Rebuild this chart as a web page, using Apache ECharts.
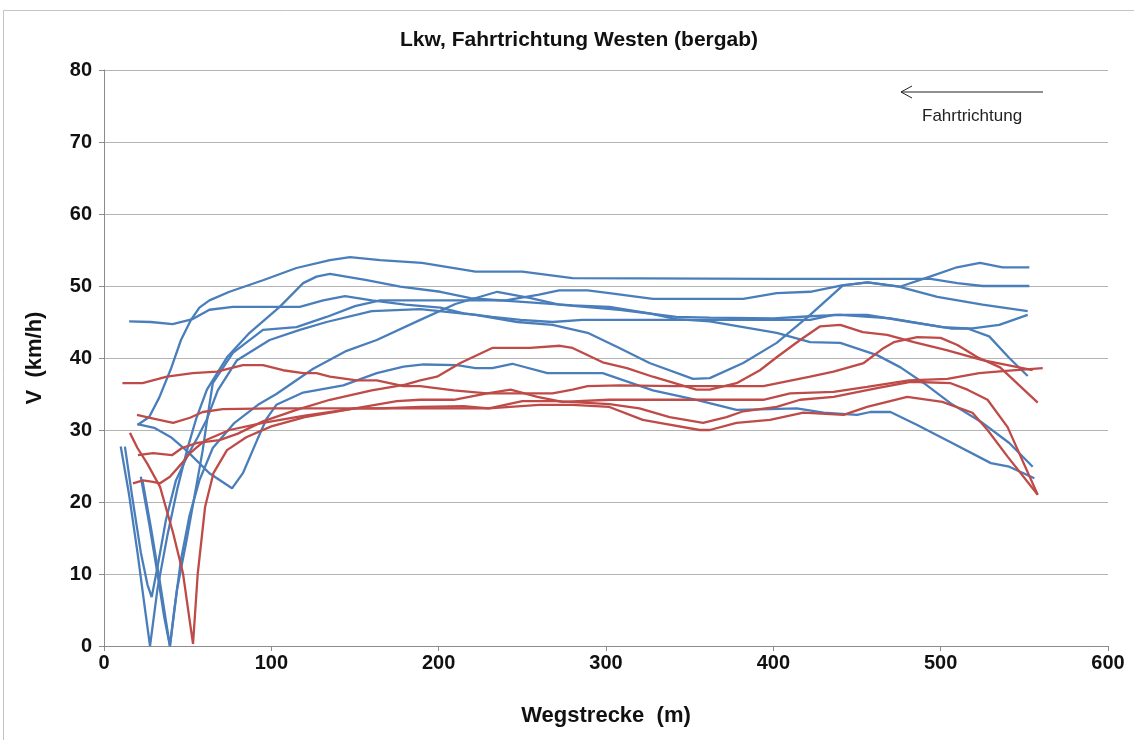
<!DOCTYPE html>
<html>
<head>
<meta charset="utf-8">
<script src="https://cdn.jsdelivr.net/npm/echarts@6/dist/echarts.min.js"></script>
<style>
html,body{margin:0;padding:0;background:#fff;}
#chart{width:1134px;height:740px;}
</style>
</head>
<body>
<div id="chart"></div>
<script>
// ---- data: [Wegstrecke (m), V (km/h)] ----
const xTicks = [0, 100, 200, 300, 400, 500, 600];
const yTicks = [0, 10, 20, 30, 40, 50, 60, 70, 80];

const blue1 = [[20,30.7],[27,31.8],[33,34.5],[40,38.5],[46,42.5],[52,45.3],[57,47],[63,48],[75,49.2],[95,50.8],[115,52.5],[135,53.6],[147,54],[165,53.6],[190,53.2],[222,52],[250,52],[280,51.1],[400,51],[494,51],[510,50.4],[525,50],[553,50]];
const blue2 = [[20,30.8],[30,30.3],[40,29],[50,27],[63,24],[76.5,21.9],[83,24],[91.5,28.6],[97,31.5],[103,33.5],[119,35.2],[143,36.2],[163,37.9],[179,38.8],[191,39.1],[211,39],[222,38.6],[232,38.6],[244,39.2],[265,37.9],[298,37.9],[328,35.5],[354,34.2],[378,32.8],[398,32.9],[414,33],[430,32.4],[450,32.1],[458,32.5],[470,32.5],[486,30.7],[506,28.3],[530,25.4],[541,24.9],[556,23.3]];
const blue3 = [[15,45.1],[28,45],[41,44.7],[53,45.4],[63,46.7],[77,47.1],[117,47.1],[131,48],[144,48.6],[160,48],[180,47.4],[201,47],[215,46.2],[232,45.7],[249,45.3],[268,45],[286,45.3],[308,45.3],[362,45.3],[422,45.3],[436,46],[456,46],[482,45],[506,44.1],[519,44.1],[535,44.6],[552,46]];
const blue4 = [[10,27.7],[15,21],[20,13],[24,6],[27.5,0],[32,8],[38,15.5],[44,22],[49.6,27.2],[55,31.5],[61.5,35.6],[73.5,40.1],[87,43.5],[105,47.1],[119,50.4],[127,51.3],[135,51.7],[157,50.8],[177,49.9],[201,49.2],[219,48.3],[250,47.8],[280,47.3],[302,47.1],[326,46.2],[342,45.4],[362,45.1],[382,44.3],[402,43.5],[422,42.2],[440,42.1],[462,40.4],[476,38.7],[490,36.5],[506,33.7],[525,31],[541,28.2],[555,24.9]];
const blue5 = [[12.5,27.7],[17,20.5],[22,13],[26,8.5],[28.5,6.8],[32,11],[37,17.5],[43,23],[50,26.5],[56,29],[61.5,31.5],[68,35.5],[79.5,39.7],[99,42.5],[117,43.9],[133,45],[160,46.5],[189,46.8],[222,46],[247,45],[268,44.6],[289,43.5],[308,41.4],[326,39.3],[352,37.1],[362,37.2],[382,39.3],[402,42.1],[422,46],[441.6,50.1],[456.7,50.5],[475.6,49.9],[493.6,51.3],[509.7,52.6],[523.5,53.2],[537,52.6],[553,52.6]];
const blue6 = [[22,23.5],[27,17],[32,10],[36,4],[39.4,0],[43.6,7.8],[49.6,15],[55,22],[59,27.2],[62,32],[65,36.5],[77,40.7],[95,43.9],[115,44.3],[133,45.7],[150,47.2],[165,48],[189,48],[240,48],[260,48.8],[272,49.4],[289,49.4],[302,49],[328,48.2],[382,48.2],[402,49],[422,49.2],[441,50.1],[456,50.5],[475,49.9],[498,48.5],[525,47.4],[552,46.5]];
const blue7 = [[23,23],[28,16.5],[33,9.5],[37,3.5],[39.4,0],[42,5],[46,12],[51,18],[57,23],[65,27.5],[78,31],[92,33.5],[103,35],[125,38.5],[145,41],[163,42.5],[189,45.3],[210,47.5],[235,49.2],[255,48.3],[272,47.4],[308,46.7],[342,45.7],[362,45.6],[400,45.5],[422,45.8],[440,46],[470,45.5],[501,44.3],[516,44.1],[529,43],[541,40],[552,37.5]];

const red1 = [[11,36.5],[23,36.5],[37.6,37.4],[53,37.9],[67.5,38.1],[83,39],[95,39],[107,38.3],[119,37.9],[127,37.9],[135,37.4],[151,36.9],[163,36.9],[179,36.1],[189,36.1],[209,35.5],[229,35.1],[268,35.1],[280,35.6],[289,36.1],[308,36.2],[342,36.1],[394,36.1],[422,37.4],[436,38.1],[454,39.3],[466,41.4],[472,42.2],[486,42.9],[500,42.8],[510,41.8],[522,40.1],[535.5,38.7],[558,33.8]];
const red2 = [[19.7,32.1],[27.5,31.7],[41.3,31],[51.4,31.7],[59,32.5],[71,32.9],[100,33],[135,33],[165,33],[189,33.2],[215,33.3],[230,33],[250,34],[270,34],[302,33.6],[320,33],[338,31.8],[358,31],[372,31.8],[382,32.6],[402,33.2],[416,34.2],[436,34.6],[462,35.8],[482,36.7],[506,36.5],[516,35.6],[528,34.2],[540,30.4],[558,21]];
const red3 = [[15.5,29.6],[20,27.5],[25.7,25.4],[33.5,22.1],[41.3,15.7],[47.2,10.1],[51.4,3.2],[53.2,0.3],[56,10],[60.4,19.3],[65.4,24],[73.5,27.2],[85,29],[100,30.5],[120,31.8],[150,33],[175,34],[189,34.2],[209,34.2],[229,35.1],[243,35.6],[259,34.6],[274,33.9],[302,34.2],[394,34.2],[410,35.1],[436,35.3],[456,36],[481,36.9],[504,37.1],[523,37.9],[539,38.2],[561,38.6]];
const red4 = [[20.3,26.5],[29.3,26.8],[40.6,26.5],[46.6,27.5],[55.6,28.2],[69,28.6],[80,29.5],[95,31.2],[115,32.8],[135,34.2],[160,35.5],[180,36.3],[189,36.9],[199,37.4],[213,39.3],[232,41.4],[254.6,41.4],[272.5,41.7],[280,41.4],[298,39.4],[312.5,38.6],[328,37.4],[354,35.6],[362,35.6],[378,36.5],[392,38.3],[402,40.1],[416,42.5],[428,44.4],[440,44.6],[453.5,43.6],[468,43.2],[484,42.2],[503.5,41.1],[525,39.7],[555,38.3]];
const red5 = [[17.3,22.6],[23.3,23],[29.3,22.8],[33.5,22.6],[39.4,23.5],[46.6,25.4],[51.4,26.8],[60,28.5],[75,30],[95,31],[120,32],[150,33],[189,33],[230,33],[260,33.5],[280,33.5],[302,33.2],[322,31.4],[332,31],[356,30],[362,30],[378,31],[398,31.4],[418,32.4],[442,32.1],[456,33.2],[480,34.6],[501,33.9],[519,32.4],[528,30],[540,26.3],[558,21]];

const blueSeries = [blue1, blue2, blue3, blue4, blue5, blue6, blue7];
const redSeries = [red1, red2, red3, red4, red5];

const BLUE = '#4a7ebb';
const RED = '#be4b48';
const FONT = 'Liberation Sans, Arial, sans-serif';

function mk(data, color, i) {
  return {
    type: 'line', name: (color === BLUE ? 'b' : 'r') + i, data: data,
    showSymbol: false, symbol: 'none', smooth: false,
    lineStyle: { color: color, width: 2.3 },
    emphasis: { disabled: true }, silent: true, z: 3
  };
}

const series = [];
blueSeries.forEach((d, i) => series.push(mk(d, BLUE, i)));
redSeries.forEach((d, i) => series.push(mk(d, RED, i)));

const chart = echarts.init(document.getElementById('chart'), null, { renderer: 'canvas' });
chart.setOption({
  animation: false,
  backgroundColor: '#fff',
  title: {
    text: 'Lkw, Fahrtrichtung Westen (bergab)',
    left: 574, top: 25, textAlign: 'center',
    textStyle: { fontFamily: FONT, fontSize: 21, fontWeight: 'bold', color: '#111' }
  },
  grid: { left: 104, right: 26, top: 70, bottom: 94, containLabel: false },
  xAxis: {
    type: 'value', min: xTicks[0], max: xTicks[xTicks.length - 1], interval: 100,
    name: 'Wegstrecke  (m)', nameLocation: 'middle', nameGap: 59,
    nameTextStyle: { fontFamily: FONT, fontSize: 22, fontWeight: 'bold', color: '#111' },
    axisLine: { show: true, lineStyle: { color: '#8c8c8c', width: 1 } },
    axisTick: { show: true, length: 5, lineStyle: { color: '#8c8c8c' } },
    axisLabel: { fontFamily: FONT, fontSize: 20, fontWeight: 'bold', color: '#111', margin: 7 },
    splitLine: { show: false }
  },
  yAxis: {
    type: 'value', min: yTicks[0], max: yTicks[yTicks.length - 1], interval: 10,
    name: 'V  (km/h)', nameLocation: 'middle', nameGap: 58, nameRotate: 90,
    nameTextStyle: { fontFamily: FONT, fontSize: 22, fontWeight: 'bold', color: '#111' },
    axisLine: { show: true, lineStyle: { color: '#8c8c8c', width: 1 } },
    axisTick: { show: true, length: 5, lineStyle: { color: '#8c8c8c' } },
    axisLabel: { fontFamily: FONT, fontSize: 20, fontWeight: 'bold', color: '#111', margin: 12 },
    splitLine: { show: true, lineStyle: { color: '#b4b4b4', width: 1 } }
  },
  graphic: [
    { type: 'rect', shape: { x: 3.5, y: 10.5, width: 1200, height: 800 },
      style: { fill: 'none', stroke: '#c4c4c4', lineWidth: 1 }, silent: true, z: 0 },
    { type: 'line', shape: { x1: 1043, y1: 92, x2: 901, y2: 92 },
      style: { stroke: '#222', lineWidth: 1 }, silent: true },
    { type: 'polyline', shape: { points: [[912, 86], [901, 92], [912, 98]] },
      style: { stroke: '#222', lineWidth: 1, fill: 'none' }, silent: true },
    { type: 'text', left: 922, top: 108,
      style: { text: 'Fahrtrichtung', fontFamily: FONT, fontSize: 17, fill: '#222' }, silent: true }
  ],
  series: series
});
</script>
</body>
</html>
